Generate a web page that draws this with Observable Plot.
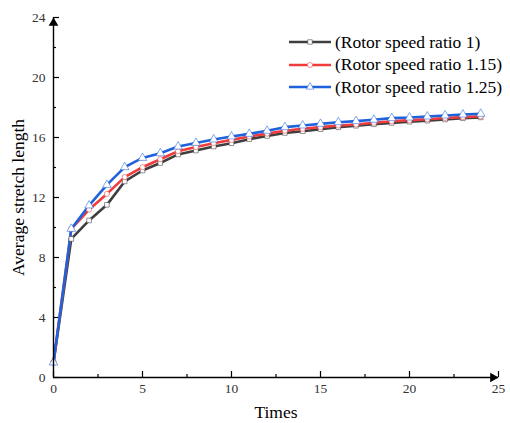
<!DOCTYPE html>
<html>
<head>
<meta charset="utf-8">
<script src="https://cdn.jsdelivr.net/npm/d3@7"></script>
<script src="https://cdn.jsdelivr.net/npm/@observablehq/plot@0.6"></script>
<style>
  body { margin: 0; background: #fff; }
  #wrap { position: relative; width: 510px; height: 423px; font-family: "Liberation Serif", "DejaVu Serif", serif; }
  #wrap svg text { font-family: "Liberation Serif", serif; }
  #legend { position: absolute; left: 288px; top: 31px; font-size: 17.5px; color: #000; }
  #legend .row { display: flex; align-items: center; height: 22.5px; white-space: nowrap; }
  #legend svg { margin-right: 3px; }
</style>
</head>
<body>
<div id="wrap"><div id="legend"></div></div>
<script>
const times = [0,1,2,3,4,5,6,7,8,9,10,11,12,13,14,15,16,17,18,19,20,21,22,23,24];
const ratio1   = [1.0, 9.24, 10.47, 11.51, 13.07, 13.8, 14.3, 14.87, 15.13, 15.4, 15.62, 15.89, 16.1, 16.3, 16.42, 16.55, 16.68, 16.78, 16.88, 16.97, 17.05, 17.12, 17.2, 17.28, 17.34];
const ratio115 = [1.0, 9.91, 11.2, 12.24, 13.36, 14.02, 14.55, 15.09, 15.36, 15.62, 15.84, 16.07, 16.26, 16.45, 16.58, 16.69, 16.8, 16.87, 16.98, 17.08, 17.16, 17.22, 17.3, 17.36, 17.42];
const ratio125 = [1.0, 9.91, 11.47, 12.84, 14.02, 14.64, 14.95, 15.4, 15.64, 15.87, 16.07, 16.24, 16.45, 16.69, 16.8, 16.91, 17.02, 17.09, 17.18, 17.29, 17.33, 17.4, 17.47, 17.53, 17.58];
const seriesNames = ["(Rotor speed ratio 1)", "(Rotor speed ratio 1.15)", "(Rotor speed ratio 1.25)"];
const seriesColors = ["#3f3f3f", "#f03c3c", "#1f62dc"];
const seriesSymbols = ["square", "circle", "triangle"];
const xTicks = [0,5,10,15,20,25];
const xMinor = [2.5,7.5,12.5,17.5,22.5];
const yTicks = [0,4,8,12,16,20,24];
const yMinor = [2,6,10,14,18,22];
const xDomain = [0,25];
const yDomain = [0,24];

const allSeries = [ratio1, ratio115, ratio125];
const rows = [];
allSeries.forEach((vals, si) => vals.forEach((v, i) => rows.push({t: times[i], v, s: seriesNames[si]})));

const W = 510, H = 423, mL = 53, mR = 12, mT = 17, mB = 46;
const innerW = W - mL - mR, innerH = H - mT - mB;
const serif = '"Liberation Serif", serif';

const marks = [];
seriesNames.forEach((name, si) => {
  const d = rows.filter(r => r.s === name);
  marks.push(Plot.line(d, {x: "t", y: "v", stroke: seriesColors[si], strokeWidth: 2.6}));
});
seriesNames.forEach((name, si) => {
  const d = rows.filter(r => r.s === name);
  marks.push(Plot.dot(d, {x: "t", y: "v", symbol: seriesSymbols[si], r: si === 2 ? 3.2 : 2.6, fill: "white", stroke: seriesColors[si], strokeOpacity: 0.55, strokeWidth: 1}));
});

const chart = Plot.plot({
  width: W, height: H,
  marginLeft: mL, marginRight: mR, marginTop: mT, marginBottom: mB,
  style: {fontFamily: serif, fontSize: "13.5px", color: "#000", background: "white"},
  x: {domain: xDomain},
  y: {domain: yDomain},
  marks: [
    Plot.axisX(xTicks, {tickSize: 0, tickPadding: 6, fontSize: 13.5, fontFamily: serif, fill: "#333", label: null}),
    Plot.axisY(yTicks, {tickSize: 0, tickPadding: 8, fontSize: 13.5, fontFamily: serif, fill: "#333", label: null}),
    Plot.axisX({ticks: [], tickSize: 0, label: "Times", labelAnchor: "center", labelArrow: "none", labelOffset: 40, fontSize: 17.5, fontFamily: serif}),
    Plot.axisY({ticks: [], tickSize: 0, label: "Average stretch length", labelAnchor: "center", labelArrow: "none", labelOffset: 42, fontSize: 17.5, fontFamily: serif}),
    Plot.tickX(xTicks, {x: d => d, insetTop: innerH - 6, stroke: "black", strokeWidth: 1.2}),
    Plot.tickX(xMinor, {x: d => d, insetTop: innerH - 3, stroke: "black", strokeWidth: 1.2}),
    Plot.tickY(yTicks, {y: d => d, insetRight: innerW - 6, stroke: "black", strokeWidth: 1.2}),
    Plot.tickY(yMinor, {y: d => d, insetRight: innerW - 3, stroke: "black", strokeWidth: 1.2}),
    ...marks,
    Plot.ruleY([yDomain[0]], {stroke: "black", strokeWidth: 1.4}),
    Plot.ruleX([xDomain[0]], {stroke: "black", strokeWidth: 1.4}),
    Plot.dot([{x: xDomain[1], y: yDomain[0]}], {x: "x", y: "y", symbol: "triangle", r: 3.6, fill: "black", rotate: 90, dx: -5.5}),
    Plot.dot([{x: xDomain[0], y: yDomain[1]}], {x: "x", y: "y", symbol: "triangle", r: 3.6, fill: "black", dy: 5.5})
  ]
});
document.getElementById("wrap").prepend(chart);

const legend = document.getElementById("legend");
seriesNames.forEach((name, si) => {
  const row = document.createElement("div");
  row.className = "row";
  const sym = d3.symbol(si === 0 ? d3.symbolSquare : si === 1 ? d3.symbolCircle : d3.symbolTriangle, si === 2 ? 24 : 20)();
  row.innerHTML = `<svg width="44" height="12"><line x1="1" x2="43" y1="6" y2="6" stroke="${seriesColors[si]}" stroke-width="2.6"/><path d="${sym}" transform="translate(22,6)" fill="white" stroke="${seriesColors[si]}" stroke-opacity="0.55"/></svg><span>${name}</span>`;
  legend.appendChild(row);
});
</script>
</body>
</html>
